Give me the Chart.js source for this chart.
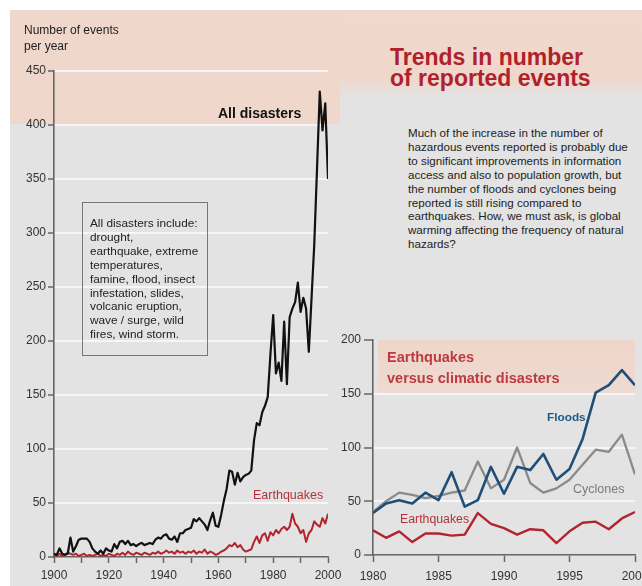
<!DOCTYPE html>
<html><head><meta charset="utf-8">
<script src="https://cdn.jsdelivr.net/npm/chart.js@4.4.1/dist/chart.umd.min.js"></script>
<style>
html,body{margin:0;padding:0;width:642px;height:586px;overflow:hidden;background:#fff;font-family:"Liberation Sans",Arial,sans-serif;}
#bg{position:absolute;left:10px;top:10px;width:632px;height:576px;background:#e3e3e3;}
#pinkL{position:absolute;left:10px;top:10px;width:330px;height:114px;background:#efd7cc;}
#pinkR{position:absolute;left:340px;top:10px;width:302px;height:86px;background:linear-gradient(#f0d8cd 0%,#efd7cc 80%,#e3e3e3 100%);}
canvas{position:absolute;}
#main{left:0;top:0;width:350px;height:586px;}
#inset{left:330px;top:320px;width:340px;height:266px;}
.t{position:absolute;white-space:nowrap;color:#222;}
</style></head>
<body>
<div id="bg"></div><div id="pinkL"></div><div id="pinkR"></div>
<canvas id="main" width="350" height="586"></canvas>
<canvas id="inset" width="340" height="266"></canvas>

<div class="t" style="left:24px;top:22px;font-size:12px;line-height:16px;color:#222;">Number of events<br>per year</div>
<div class="t" style="left:218px;top:105px;font-size:14px;line-height:16px;font-weight:bold;color:#111;">All disasters</div>
<div class="t" style="left:82px;top:202px;width:124px;height:152px;border:1.5px solid #777;font-size:11.8px;line-height:13.9px;padding:0;">
<div style="position:absolute;left:7px;top:14px;">All disasters include:<br>drought,<br>earthquake, extreme<br>temperatures,<br>famine, flood, insect<br>infestation, slides,<br>volcanic eruption,<br>wave / surge, wild<br>fires, wind storm.</div></div>
<div class="t" style="left:253px;top:487px;font-size:12.5px;line-height:16px;color:#b3323a;">Earthquakes</div>

<div class="t" style="left:390px;top:47px;font-size:23px;line-height:21px;font-weight:bold;color:#b0222b;">Trends in number<br>of reported events</div>
<div class="t" style="left:408px;top:126px;font-size:11.6px;line-height:13.9px;color:#222;">Much of the increase in the number of<br>hazardous events reported is probably due<br>to significant improvements in information<br>access and also to population growth, but<br>the number of floods and cyclones being<br>reported is still rising compared to<br>earthquakes. How, we must ask, is global<br>warming affecting the frequency of natural<br>hazards?</div>

<div class="t" style="left:387px;top:347px;font-size:14.5px;line-height:21px;font-weight:bold;color:#bd3a40;">Earthquakes<br>versus climatic disasters</div>
<div class="t" style="left:547px;top:409px;font-size:11.8px;line-height:16px;font-weight:bold;color:#1d5a87;">Floods</div>
<div class="t" style="left:573px;top:481px;font-size:12.5px;line-height:16px;color:#7a7a7a;">Cyclones</div>
<div class="t" style="left:400px;top:511px;font-size:12.3px;line-height:16px;color:#b3323a;">Earthquakes</div>

<script>
// ---- Main chart data (1900-2000) ----
const mainYears = [];
for (let y = 1900; y <= 2000; y++) mainYears.push(y);
const allDisasters = [
  3, 2, 8, 3, 2, 3, 18, 5, 10, 16,
  17, 17, 17, 14, 8, 5, 3, 6, 3, 8,
  6, 5, 12, 8, 14, 15, 12, 15, 11, 12,
  10, 12, 13, 11, 12, 13, 12, 16, 18, 17,
  20, 21, 17, 16, 19, 14, 22, 22, 25, 26,
  27, 35, 33, 36, 33, 30, 25, 34, 41, 29,
  28, 39, 52, 63, 80, 79, 67, 78, 70, 74,
  76, 77, 80, 108, 124, 122, 134, 140, 148, 188,
  224, 170, 180, 163, 218, 160, 222, 230, 236, 254,
  227, 240, 230, 190, 240, 290, 360, 431, 395, 420,
  350
];
const earthquakesAll = [
  2, 1, 3, 1, 2, 4, 3, 2, 3, 1,
  2, 3, 1, 2, 1, 2, 3, 1, 2, 1,
  3, 2, 1, 3, 2, 4, 2, 5, 3, 2,
  4, 3, 2, 4, 3, 2, 4, 3, 5, 3,
  4, 6, 4, 5, 3, 6, 4, 5, 3, 5,
  4, 6, 3, 5, 4, 7, 3, 5, 4, 2,
  3, 5, 6, 8, 11, 10, 13, 9, 11, 7,
  5, 6, 7, 14, 19, 13, 20, 22, 15, 23,
  20, 25, 22, 26, 28, 25, 28, 40, 31, 28,
  22, 25, 14, 22, 25, 33, 30, 28, 36, 31,
  40
];
const mainYTicks = [0, 50, 100, 150, 200, 250, 300, 350, 400, 450];

// ---- Inset data (1980-2000) ----
const insetYears = [1980,1981,1982,1983,1984,1985,1986,1987,1988,1989,1990,1991,1992,1993,1994,1995,1996,1997,1998,1999,2000];
const floods =    [39, 48, 51, 48, 58, 51, 77, 45, 51, 82, 57, 82, 79, 94, 70, 80, 108, 151, 158, 172, 158];
const cyclones =  [40, 50, 58, 56, 53, 55, 58, 60, 87, 62, 70, 100, 67, 58, 62, 70, 84, 98, 96, 112, 75];
const quakesIns = [23, 16, 22, 12, 20, 20, 18, 19, 39, 29, 25, 19, 24, 23, 11, 22, 30, 31, 24, 34, 40];

const FONT = '"Liberation Sans", Arial, sans-serif';
const pts = (xs, ys) => xs.map((x, i) => ({x: x, y: ys[i]}));
const gridCol = (ctx) => (ctx.tick && (ctx.tick.value === 0)) ? 'rgba(0,0,0,0)' : '#f6f6f6';

new Chart(document.getElementById('main'), {
  type: 'line',
  data: {
    datasets: [
      {data: pts(mainYears, allDisasters), borderColor: '#111', borderWidth: 2.2},
      {data: pts(mainYears, earthquakesAll), borderColor: '#b3252e', borderWidth: 2}
    ]
  },
  options: {
    responsive: false, animation: false,
    layout: {padding: {left: 0, top: 71, right: 22, bottom: 0}},
    plugins: {legend: {display: false}, tooltip: {enabled: false}},
    elements: {point: {radius: 0}, line: {tension: 0, borderJoinStyle: 'round'}},
    scales: {
      x: {
        type: 'linear', min: 1900, max: 2000,
        ticks: {stepSize: 10, autoSkip: false, maxRotation: 0, padding: 5, color: '#333',
          font: {family: FONT, size: 12},
          callback: v => (v % 20 === 0 ? String(v) : '')},
        grid: {display: true, drawOnChartArea: false, drawTicks: true, tickLength: 6, tickColor: '#666', tickWidth: 1.5},
        border: {display: true, color: '#666', width: 1.6},
        afterFit: s => { s.height = 29; }
      },
      y: {
        type: 'linear', min: 0, max: 450,
        afterBuildTicks: s => { s.ticks = mainYTicks.map(v => ({value: v})); },
        ticks: {padding: 2, color: '#333', font: {family: FONT, size: 12}, callback: v => String(v)},
        grid: {color: gridCol, lineWidth: 2, drawTicks: true, tickLength: 6, tickColor: '#666', tickWidth: 1.5},
        border: {display: true, color: '#666', width: 1.6},
        afterFit: s => { s.width = 54; }
      }
    }
  }
});

const insetBand = {
  id: 'insetBand',
  beforeDraw(chart) {
    const {ctx, chartArea, scales} = chart;
    const y1 = scales.y.getPixelForValue(200), y2 = scales.y.getPixelForValue(150);
    const g = ctx.createLinearGradient(0, y1, 0, y2);
    g.addColorStop(0, '#efd5c9');
    g.addColorStop(1, '#eddad2');
    ctx.save();
    ctx.fillStyle = g;
    ctx.fillRect(chartArea.left + 5, y1, chartArea.right - chartArea.left - 5, y2 - y1);
    ctx.restore();
  }
};
const insetGrid = (ctx) => (ctx.tick && (ctx.tick.value === 0 || ctx.tick.value === 200)) ? 'rgba(0,0,0,0)' : '#f6f6f6';

new Chart(document.getElementById('inset'), {
  type: 'line',
  data: {
    datasets: [
      {data: pts(insetYears, floods), borderColor: '#1f4f78', borderWidth: 2.6},
      {data: pts(insetYears, cyclones), borderColor: '#8a8a8a', borderWidth: 2.3},
      {data: pts(insetYears, quakesIns), borderColor: '#b3252e', borderWidth: 2.4}
    ]
  },
  plugins: [insetBand],
  options: {
    responsive: false, animation: false,
    layout: {padding: {left: 0, top: 20, right: 35, bottom: 0}},
    plugins: {legend: {display: false}, tooltip: {enabled: false}},
    elements: {point: {radius: 0}, line: {tension: 0, borderJoinStyle: 'round'}},
    scales: {
      x: {
        type: 'linear', min: 1980, max: 2000,
        ticks: {stepSize: 5, autoSkip: false, maxRotation: 0, padding: 7, color: '#333',
          font: {family: FONT, size: 12}, callback: v => String(v)},
        grid: {display: true, drawOnChartArea: false, drawTicks: true, tickLength: 7, tickColor: '#666', tickWidth: 1.5},
        border: {display: true, color: '#666', width: 1.6},
        afterFit: s => { s.height = 31; }
      },
      y: {
        type: 'linear', min: 0, max: 200,
        ticks: {stepSize: 50, padding: 3, color: '#333', font: {family: FONT, size: 12}, callback: v => String(v)},
        grid: {color: insetGrid, lineWidth: 2, drawTicks: true, tickLength: 9, tickColor: '#666', tickWidth: 1.5},
        border: {display: true, color: '#666', width: 1.6},
        afterFit: s => { s.width = 43; }
      }
    }
  }
});
</script>
</body></html>
